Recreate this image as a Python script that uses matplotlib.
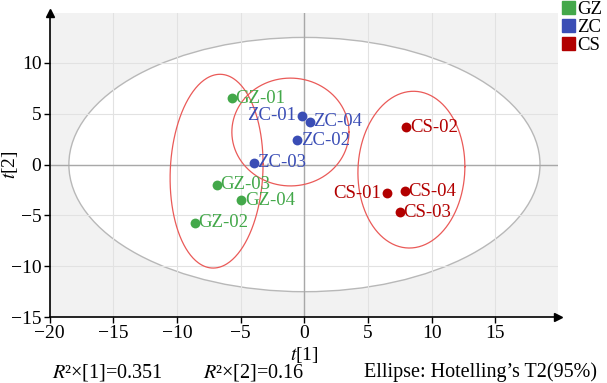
import matplotlib
matplotlib.use('Agg')
import matplotlib.pyplot as plt
import numpy as np
from matplotlib.patches import Ellipse, Patch

plt.rcParams['font.family'] = ['Liberation Serif', 'DejaVu Serif']
plt.rcParams['mathtext.fontset'] = 'stix'

# sample scores
groups = ['GZ', 'ZC', 'CS']
colors = {'GZ': '#43a84a', 'ZC': '#3a4db5', 'CS': '#b20000'}
names = ['GZ-01', 'GZ-02', 'GZ-03', 'GZ-04',
         'ZC-01', 'ZC-02', 'ZC-03', 'ZC-04',
         'CS-01', 'CS-02', 'CS-03', 'CS-04']
t1 = [-5.7, -8.6, -6.9, -4.95, -0.2, -0.55, -4.0, 0.4, 6.45, 8.0, 7.5, 7.9]
t2 = [6.5, -5.7, -2.0, -3.5, 4.8, 2.4, 0.2, 4.2, -2.8, 3.65, -4.7, -2.6]
label_left = ['ZC-01', 'CS-01']

# group ellipses: centre x, centre y, half width, half height, shear
grp_ell = {'GZ': (-6.9, -0.65, 3.65, 9.5, 0.7),
           'ZC': (-1.1, 3.2, 4.6, 5.3, 0.0),
           'CS': (8.4, -0.5, 4.2, 7.7, 0.3)}
# Hotelling T2 ellipse
t2_width, t2_height = 37.0, 25.0

xticks = [-20, -15, -10, -5, 0, 5, 10, 15]
yticks = [-15, -10, -5, 0, 5, 10]

fig = plt.figure(figsize=(6.07, 3.83), dpi=100)
ax = fig.add_axes([0.082, 0.172, 0.837, 0.794])
ax.set_facecolor('#f2f2f2')
ax.set_xlim(-20, 19.9)
ax.set_ylim(-15, 14.9)

ax.add_patch(Ellipse((0, 0), t2_width, t2_height, facecolor='white',
                     edgecolor='#b8b8b8', lw=1.0, zorder=0.2))
ax.set_axisbelow(True)
ax.grid(True, color='#e2e2e2', lw=0.8)
ax.axhline(0, color='#a8a8a8', lw=1.0, zorder=0.6)
ax.axvline(0, color='#a8a8a8', lw=1.0, zorder=0.6)

tt = np.linspace(0, 2 * np.pi, 300)
for g in groups:
    cx, cy, rx, ry, k = grp_ell[g]
    ax.plot(cx + rx * np.cos(tt), cy + ry * np.sin(tt) + k * np.cos(tt),
            color='#ea5a58', lw=0.9, zorder=2)

for n, x, y in zip(names, t1, t2):
    c = colors[n[:2]]
    ax.scatter(x, y, s=50, color=c, zorder=3, linewidths=0)
    if n in label_left:
        ax.annotate(n, (x, y), xytext=(-4, 0), textcoords='offset points',
                    ha='right', va='center', color=c, fontsize=13.5)
    else:
        ax.annotate(n, (x, y), xytext=(2.5, 0), textcoords='offset points',
                    ha='left', va='center', color=c, fontsize=13.5)

for s in ['top', 'right']:
    ax.spines[s].set_visible(False)
ax.spines['left'].set_linewidth(1.2)
ax.spines['bottom'].set_linewidth(1.2)
ax.plot(1, 0, '>k', ms=6, transform=ax.transAxes, clip_on=False)
ax.plot(0, 1, '^k', ms=6, transform=ax.transAxes, clip_on=False)

ax.set_xticks(xticks)
ax.set_yticks(yticks)
ax.tick_params(labelsize=14, length=4, width=1, pad=2)
ax.set_xlabel(r'$t$[1]', fontsize=14, va='center')
ax.set_ylabel(r'$t$[2]', fontsize=14, va='center')
ax.xaxis.set_label_coords(0.502, -0.125)
ax.yaxis.set_label_coords(-0.079, 0.5)

fig.text(0.085, 0.015, r'$R$²×[1]=0.351', fontsize=14.5, va='baseline')
fig.text(0.335, 0.015, r'$R$²×[2]=0.16', fontsize=14.5, va='baseline')
fig.text(0.6, 0.015, 'Ellipse: Hotelling’s T2(95%)', fontsize=14.5, va='baseline')

handles = [Patch(color=colors[g]) for g in groups]
fig.legend(handles, groups, loc='upper left', bbox_to_anchor=(0.926, 0.998),
           frameon=False, fontsize=13.5, handlelength=0.7, handleheight=0.7,
           handletextpad=0.1, labelspacing=0.05, borderpad=0.0,
           borderaxespad=0.0)

fig.savefig('out.png', dpi=100)
